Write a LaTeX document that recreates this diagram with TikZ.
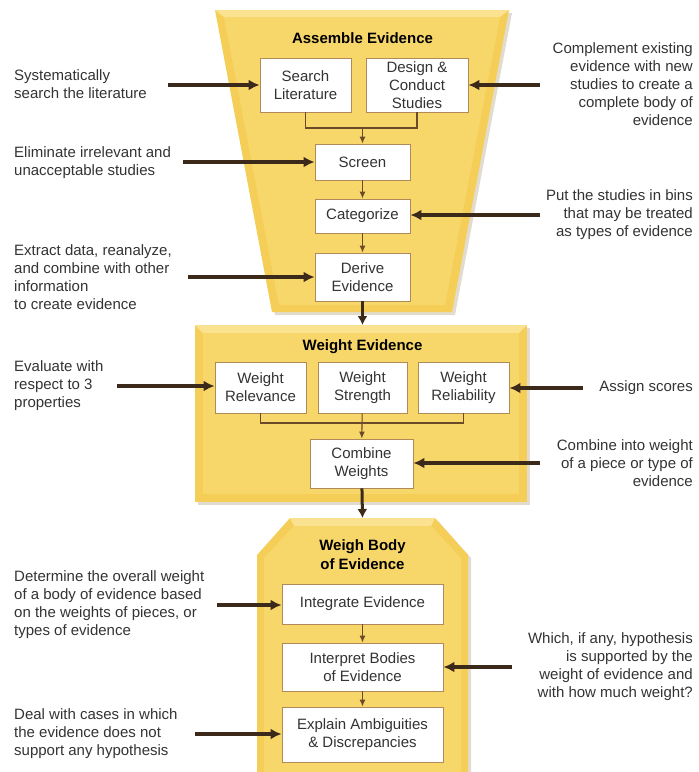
\documentclass[tikz,border=0pt]{standalone}
\usepackage{fontspec}
\setmainfont{Liberation Sans}
\usetikzlibrary{arrows.meta}
\definecolor{facecol}{HTML}{F8D76A}
\definecolor{bevelcol}{HTML}{F5CE58}
\definecolor{lightcol}{HTML}{FBE290}
\definecolor{shadecol}{HTML}{E2DCCF}
\definecolor{linecol}{HTML}{6B4A2A}
\definecolor{boxcol}{HTML}{B08A58}
\definecolor{feedcol}{HTML}{3B2A1A}
\definecolor{txtcol}{HTML}{333333}

\begin{document}
\begin{tikzpicture}[x=1pt, y=-1pt,
every node/.style={font=\fontsize{15}{18}\selectfont, text=txtcol},
stage/.style={draw=boxcol, line width=0.9pt, fill=white, align=center, inner sep=0pt},
title/.style={font=\fontsize{15}{19}\selectfont\bfseries, text=black, align=center},
note/.style={align=left, anchor=west, inner sep=0pt},
rnote/.style={align=right, anchor=east, inner sep=0pt},
flow/.style={linecol, line width=1.1pt},
feed/.style={feedcol, line width=3.2pt, -{Latex[length=11pt,width=11pt]}},
link/.style={flow, -{Latex[length=7pt,width=6pt]}},
pass/.style={feedcol, line width=3pt, -{Latex[length=9pt,width=10pt]}}]

\useasboundingbox (0,0) rectangle (699,772);
\def\cx{362.5}

% PANELS
\fill[shadecol] (218,13) -- (512,13) -- (455,315) -- (275,315) -- cycle;
\fill[bevelcol] (215,10) -- (509,10) -- (452,312) -- (272,312) -- cycle;
\fill[lightcol] (215,10) -- (509,10) -- (500,17) -- (224,17) -- cycle;
\fill[facecol] (224,17) -- (500,17) -- (445,305) -- (279,305) -- cycle;

\fill[shadecol] (198,328) rectangle (530,505);
\fill[bevelcol] (195,325) rectangle (527,502);
\fill[lightcol] (195,325) -- (527,325) -- (519,333) -- (203,333) -- cycle;
\fill[facecol] (203,333) rectangle (519,494);

\fill[shadecol] (293,521) -- (438,521) -- (471,558) -- (471,775) -- (260,775) -- (260,558) -- cycle;
\fill[bevelcol] (290,518) -- (435,518) -- (468,555) -- (468,775) -- (257,775) -- (257,555) -- cycle;
\fill[lightcol] (290,518) -- (435,518) -- (431,526) -- (294,526) -- cycle;
\fill[facecol] (294,526) -- (431,526) -- (461,558) -- (461,775) -- (264,775) -- (264,558) -- cycle;

% assemble evidence
\node[title] (assemble) at (\cx,38) {Assemble Evidence};
\node[stage, minimum width=91pt, minimum height=54pt] (search) at (305.5,85) {Search\\Literature};
\node[stage, minimum width=102pt, minimum height=54pt] (design) at (417,85) {Design \&\\Conduct\\Studies};
\node[stage, minimum width=95pt, minimum height=36pt] (screen) at (\cx,162) {Screen};
\node[stage, minimum width=95pt, minimum height=34pt] (categorize) at (\cx,216) {Categorize};
\node[stage, minimum width=95pt, minimum height=48pt] (derive) at (\cx,277) {Derive\\Evidence};

% weight evidence
\node[title] (weight) at (\cx,347) {Weight Evidence};
\node[stage, minimum width=91pt, minimum height=51pt] (relevance) at (260.5,387.5) {Weight\\Relevance};
\node[stage, minimum width=89pt, minimum height=51pt] (strength) at (\cx,387.5) {Weight\\Strength};
\node[stage, minimum width=91pt, minimum height=51pt] (reliability) at (463.5,387.5) {Weight\\Reliability};
\node[stage, minimum width=103pt, minimum height=49pt] (combine) at (361.5,463.5) {Combine\\Weights};

% weigh body of evidence
\node[title] (body) at (\cx,555) {Weigh Body\\of Evidence};
\node[stage, minimum width=161pt, minimum height=40pt] (integrate) at (\cx,604) {Integrate Evidence};
\node[stage, minimum width=161pt, minimum height=48pt] (interpret) at (\cx,667) {Interpret Bodies\\of Evidence};
\node[stage, minimum width=161pt, minimum height=55pt] (explain) at (\cx,734.5) {Explain Ambiguities\\\& Discrepancies};

% INNER FLOW
\coordinate (m1) at (\cx,128);
\coordinate (m2) at (\cx,423);
\coordinate (wtop) at (\cx,325);
\coordinate (btop) at (\cx,518);
\draw[flow] (search.south) |- (m1);
\draw[flow] (design.south) |- (m1);
\draw[link] (m1) -- (screen);
\draw[link] (screen) -- (categorize);
\draw[link] (categorize) -- (derive);
\draw[flow] (relevance.south) |- (m2);
\draw[flow] (reliability.south) |- (m2);
\draw[link] (strength) -- (combine);
\draw[link] (integrate) -- (interpret);
\draw[link] (interpret) -- (explain);
\draw[pass] (derive) -- (wtop);
\draw[pass] (combine) -- (btop);

% LEFT NOTES
\node[note] (sys) at (14,84) {Systematically\\search the literature};
\node[note] (elim) at (14,163) {Eliminate irrelevant and\\unacceptable studies};
\node[note] (extract) at (14,277) {Extract data, reanalyze,\\and combine with other\\information\\to create evidence};
\node[note] (evaluate) at (14,386) {Evaluate with\\respect to 3\\properties};
\node[note] (determine) at (14,605) {Determine the overall weight\\of a body of evidence based\\on the weights of pieces, or\\types of evidence};
\node[note] (deal) at (14,734) {Deal with cases in which\\the evidence does not\\support any hypothesis};

% RIGHT NOTES
\node[rnote] (complement) at (693,84) {Complement existing\\evidence with new\\studies to create a\\complete body of\\evidence};
\node[rnote] (bins) at (693,215) {Put the studies in bins\\that may be treated\\as types of evidence};
\node[rnote] (assign) at (693,388) {Assign scores};
\node[rnote] (into) at (693,463) {Combine into weight\\of a piece or type of\\evidence};
\node[rnote] (which) at (693,667) {Which, if any, hypothesis\\is supported by the\\weight of evidence and\\with how much weight?};

% FEEDERS
\coordinate (f1) at (168,85);
\coordinate (f2) at (183,162);
\coordinate (f3) at (188,277);
\coordinate (f4) at (117,386);
\coordinate (f5) at (217,605);
\coordinate (f6) at (195,734);
\coordinate (g1) at (540,85);
\coordinate (g2) at (540,215);
\coordinate (g3) at (583,388);
\coordinate (g4) at (540,463);
\coordinate (g5) at (512,667);
\draw[feed] (f1) -- (f1 -| search.west);
\draw[feed] (f2) -- (f2 -| screen.west);
\draw[feed] (f3) -- (f3 -| derive.west);
\draw[feed] (f4) -- (f4 -| relevance.west);
\draw[feed] (f5) -- (f5 -| integrate.west);
\draw[feed] (f6) -- (f6 -| explain.west);
\draw[feed] (g1) -- (g1 -| design.east);
\draw[feed] (g2) -- (g2 -| categorize.east);
\draw[feed] (g3) -- (g3 -| reliability.east);
\draw[feed] (g4) -- (g4 -| combine.east);
\draw[feed] (g5) -- (g5 -| interpret.east);

\end{tikzpicture}
\end{document}
